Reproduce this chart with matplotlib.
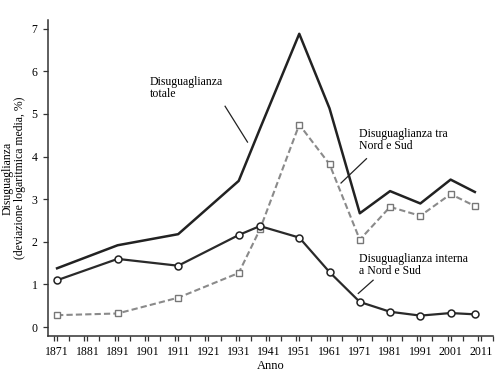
import matplotlib.pyplot as plt
from matplotlib.ticker import MultipleLocator

plt.rcParams['font.family'] = ['Liberation Serif', 'DejaVu Serif']

# values
anni = [1871, 1891, 1911, 1931, 1938, 1951, 1961, 1971, 1981, 1991, 2001, 2009]
totale = [1.38, 1.92, 2.18, 3.43, 4.65, 6.88, 5.13, 2.67, 3.19, 2.90, 3.46, 3.17]
interna = [1.10, 1.60, 1.44, 2.16, 2.37, 2.10, 1.29, 0.59, 0.36, 0.27, 0.33, 0.30]
tra = [0.28, 0.32, 0.69, 1.27, 2.29, 4.75, 3.82, 2.05, 2.82, 2.61, 3.12, 2.84]
tick_anni = list(range(1871, 2012, 10))

fig = plt.figure(figsize=(5, 3.73), dpi=100)
ax = fig.add_axes([0.096, 0.099, 0.89, 0.847])

ax.plot(anni, totale, color='#222222', lw=1.8)
ax.plot(anni, tra, color='#8a8a8a', lw=1.5, ls=(0, (3, 1.5)), marker='s',
        ms=4.5, mfc='white', mec='#777777', mew=1.0)
ax.plot(anni, interna, color='#2a2a2a', lw=1.6, marker='o',
        ms=5, mfc='white', mec='#222222', mew=1.1)

ax.set_xlim(1868, 2015)
ax.set_ylim(-0.21, 7.2)
ax.set_xticks(tick_anni)
ax.xaxis.set_minor_locator(MultipleLocator(5))
ax.set_yticks(range(0, 8))
ax.tick_params(labelsize=8.5, length=3.5, width=0.9, color='#333333', pad=4)
ax.tick_params(which='minor', length=3.5, width=0.9, color='#333333')

for s in ['top', 'right']:
    ax.spines[s].set_visible(False)
for s in ['left', 'bottom']:
    ax.spines[s].set_color('#333333')
    ax.spines[s].set_linewidth(1.1)

ax.set_xlabel('Anno', fontsize=9, labelpad=1)
ax.set_ylabel('Disuguaglianza\n(deviazione logaritmica media, %)',
              fontsize=8.5, linespacing=1.0, labelpad=4)

kw = dict(fontsize=8.5, va='top', ha='left', linespacing=1.0)
ax.text(1901.7, 5.88, 'Disuguaglianza\ntotale', **kw)
ax.text(1970.8, 4.67, 'Disuguaglianza tra\nNord e Sud', **kw)
ax.text(1970.8, 1.74, 'Disuguaglianza interna\na Nord e Sud', **kw)

ax.plot([1926.5, 1933.9], [5.18, 4.34], color='#222222', lw=0.9)
ax.plot([1973.2, 1964.8], [3.95, 3.38], color='#222222', lw=0.9)
ax.plot([1975.4, 1970.5], [1.10, 0.79], color='#222222', lw=0.9)

plt.savefig('out.png', dpi=100)
